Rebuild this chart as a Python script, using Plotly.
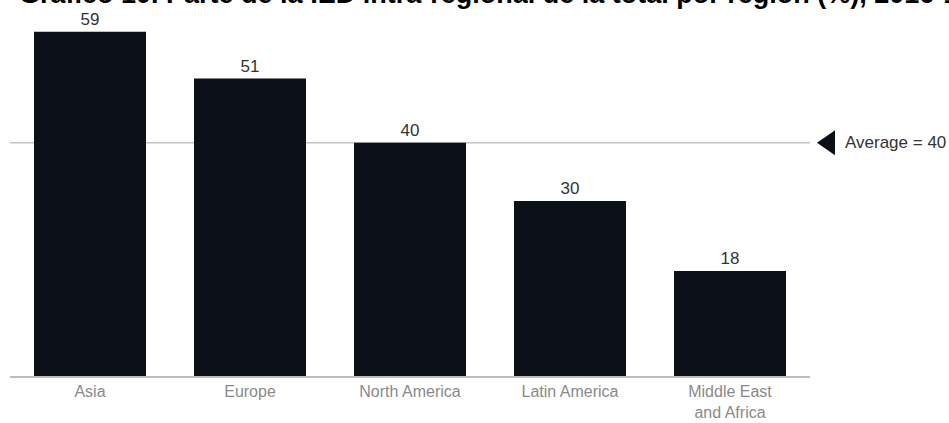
import plotly.graph_objects as go

categories = ["Asia", "Europe", "North America", "Latin America", "Middle East<br>and Africa"]
values = [59, 51, 40, 30, 18]
average_value = 40
average_label = "Average = 40"
title_text = "Gráfico 10. Parte de la IED intra-regional de la total por región (%), 2016-18"

bar_color = "#0a0f18"
font_family = "Liberation Sans, Arial, sans-serif"

fig = go.Figure()
fig.add_trace(go.Bar(
    x=categories,
    y=values,
    marker=dict(color=bar_color, line=dict(width=0)),
    width=0.7,
    text=[str(v) for v in values],
    textposition="outside",
    textfont=dict(size=17, color="#333333", family=font_family),
    cliponaxis=False,
    hoverinfo="skip",
))

# average line across the plot area
fig.add_shape(type="line", xref="paper", x0=0, x1=1, yref="y", y0=average_value, y1=average_value,
              line=dict(color="#c4c4c4", width=1.5), layer="below")
# left-pointing triangle marker
fig.add_shape(type="path", xref="paper", yref="y", xsizemode="pixel", ysizemode="pixel",
              xanchor=1, yanchor=average_value,
              path="M 7 0 L 25 12.5 L 25 -12.5 Z",
              fillcolor="#0a0f18", line=dict(width=0))
fig.add_annotation(xref="paper", yref="y", x=1, y=average_value, xanchor="left", yanchor="middle",
                   xshift=33, text=average_label, showarrow=False,
                   font=dict(size=17, color="#333333", family=font_family))

# clipped title at top
fig.add_annotation(xref="paper", yref="paper", x=0, y=1, xanchor="left", yanchor="middle",
                   xshift=7, yshift=32.5, text="<b>" + title_text + "</b>", showarrow=False,
                   font=dict(size=27, color="#000000", family=font_family))

fig.update_layout(
    width=949, height=423,
    margin=dict(l=10, r=139, t=26, b=47),
    paper_bgcolor="white", plot_bgcolor="white",
    showlegend=False,
    bargap=0.3,
    xaxis=dict(showline=True, linecolor="#bdbdbd", linewidth=2, ticks="", showgrid=False,
               automargin=False,
               tickfont=dict(size=16, color="#8a8a8a", family=font_family)),
    yaxis=dict(range=[0, 60], visible=False, showgrid=False, zeroline=False, automargin=False),
)

fig.write_html("out.html")
